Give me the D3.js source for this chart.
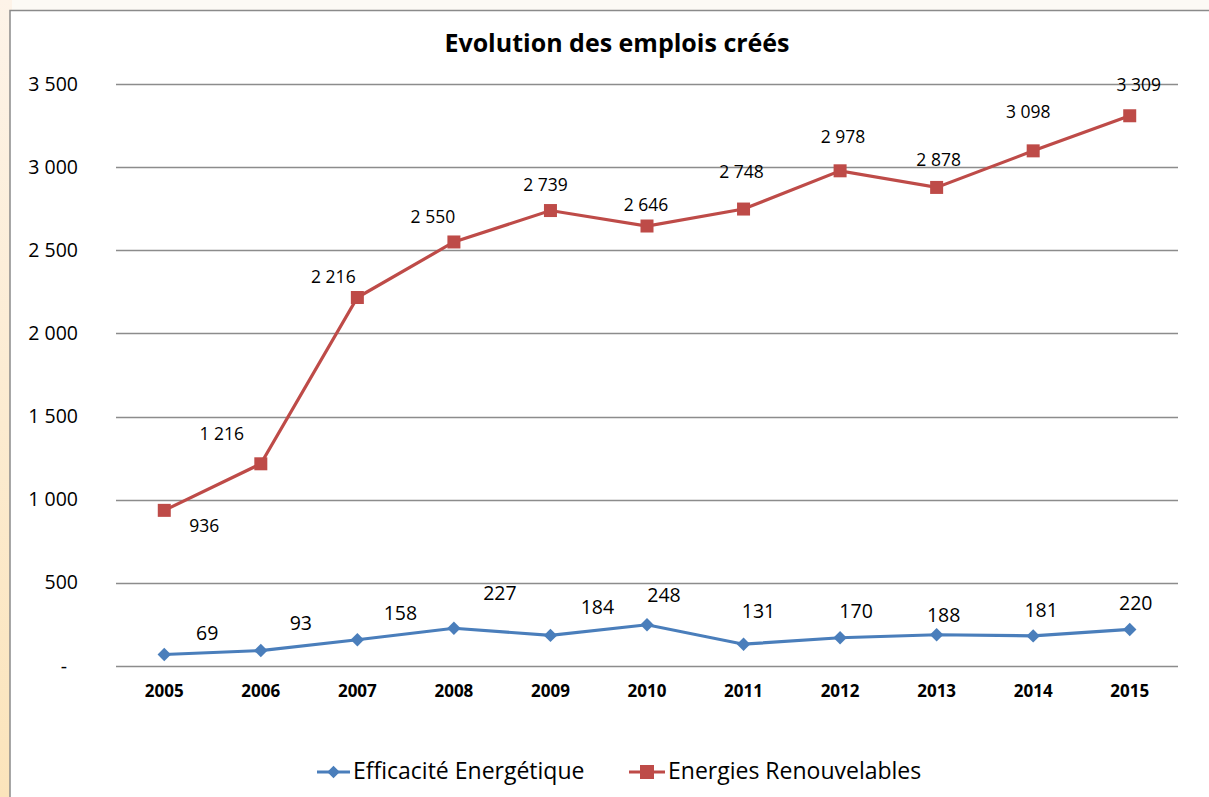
<!DOCTYPE html>
<html>
<head>
<meta charset="utf-8">
<script src="https://cdn.jsdelivr.net/npm/d3@7"></script>
<style>
  body { margin: 0; background: #fcf9f3; }
  svg { display: block; }
  text { font-family: "Open Sans", Lato, sans-serif; fill: #000; }
</style>
</head>
<body>
<svg id="chart" width="1209" height="797"></svg>
<script>
var width = 1209;
var height = 797;

var years = ["2005", "2006", "2007", "2008", "2009", "2010", "2011", "2012", "2013", "2014", "2015"];
var efficacite = [69, 93, 158, 227, 184, 248, 131, 170, 188, 181, 220];
var renouvelables = [936, 1216, 2216, 2550, 2739, 2646, 2748, 2978, 2878, 3098, 3309];
var yTicks = [0, 500, 1000, 1500, 2000, 2500, 3000, 3500];

// hand placed label nudges (dx, baseline dy), like the original sheet
var redNudge = [[40, 22], [-39, -24], [-24, -15], [-21, -19], [-5, -20], [-1, -15], [-2, -31], [3, -28], [2, -21], [-5, -33], [9, -25]];
var blueNudge = [[43, -15], [40, -21], [43, -20], [46, -28], [47, -21], [17, -23], [15, -26], [16, -20], [7, -13], [8, -19], [6, -19]];

var svg = d3.select("#chart");

// slide background bits
var defs = svg.append("defs");
var grad = defs.append("linearGradient").attr("id", "side").attr("x1", 0).attr("y1", 0).attr("x2", 0).attr("y2", 1);
grad.append("stop").attr("offset", "0%").attr("stop-color", "#fdf3e8");
grad.append("stop").attr("offset", "100%").attr("stop-color", "#fbe4bb");
svg.append("rect").attr("x", 0).attr("y", 0).attr("width", width).attr("height", height).attr("fill", "#fcfaf5");
svg.append("rect").attr("x", 0).attr("y", 0).attr("width", 12).attr("height", height).attr("fill", "url(#side)");

// chart box
svg.append("rect").attr("x", 10).attr("y", 10.5).attr("width", width + 20).attr("height", height + 20)
  .attr("fill", "#fff").attr("stroke", "#8a8a8a").attr("stroke-width", 1.5);

var x = d3.scaleBand().domain(years).range([116, 1178]);
var y = d3.scaleLinear().domain([0, 3500]).range([666, 84]);
var cx = function(d, i) { return x(years[i]) + x.bandwidth() / 2; };

function fmt(v) {
  if (v === 0) return "-";
  return d3.format(",")(v).replace(/,/g, " ");
}

// grid
svg.append("g").selectAll("line").data(yTicks).enter().append("line")
  .attr("x1", 116).attr("x2", 1178)
  .attr("y1", function(d) { return Math.round(y(d)) + 0.5; })
  .attr("y2", function(d) { return Math.round(y(d)) + 0.5; })
  .attr("stroke", "#8c8c8c").attr("stroke-width", 1.3);

svg.append("g").selectAll("text").data(yTicks).enter().append("text")
  .attr("x", function(d) { return d === 0 ? 67 : 78; })
  .attr("y", function(d) { return y(d) + 6.5; })
  .attr("text-anchor", "end")
  .style("font-size", "19.5px")
  .text(fmt);

svg.append("g").selectAll("text").data(years).enter().append("text")
  .attr("x", function(d) { return x(d) + x.bandwidth() / 2; })
  .attr("y", 697)
  .attr("text-anchor", "middle")
  .style("font-size", "17px").style("font-weight", "bold")
  .text(function(d) { return d; });

svg.append("text").attr("x", 617).attr("y", 52).attr("text-anchor", "middle")
  .style("font-size", "25px").style("font-weight", "bold")
  .text("Evolution des emplois créés");

var line = d3.line().x(cx).y(function(d) { return y(d); });

var blue = "#4a7ebb", red = "#be4b48";

svg.append("path").datum(renouvelables).attr("d", line)
  .attr("fill", "none").attr("stroke", red).attr("stroke-width", 3.2);
svg.append("path").datum(efficacite).attr("d", line)
  .attr("fill", "none").attr("stroke", blue).attr("stroke-width", 3.2);

svg.append("g").selectAll("rect").data(renouvelables).enter().append("rect")
  .attr("x", function(d, i) { return cx(d, i) - 6.5; })
  .attr("y", function(d) { return y(d) - 6.5; })
  .attr("width", 13).attr("height", 13).attr("fill", red);

var diamond = d3.symbol().type(d3.symbolDiamond2).size(115);
svg.append("g").selectAll("path").data(efficacite).enter().append("path")
  .attr("d", diamond)
  .attr("transform", function(d, i) { return "translate(" + cx(d, i) + "," + y(d) + ")"; })
  .attr("fill", blue);

svg.append("g").selectAll("text").data(renouvelables).enter().append("text")
  .attr("x", function(d, i) { return cx(d, i) + redNudge[i][0]; })
  .attr("y", function(d, i) { return y(d) + redNudge[i][1]; })
  .attr("text-anchor", "middle").style("font-size", "17.5px")
  .text(fmt);

svg.append("g").selectAll("text").data(efficacite).enter().append("text")
  .attr("x", function(d, i) { return cx(d, i) + blueNudge[i][0]; })
  .attr("y", function(d, i) { return y(d) + blueNudge[i][1]; })
  .attr("text-anchor", "middle").style("font-size", "19.5px")
  .text(fmt);

// legend
var legend = [
  { name: "Efficacité Energétique", color: blue, x: 317, len: 33, shape: "diamond" },
  { name: "Energies Renouvelables", color: red, x: 629, len: 36, shape: "square" }
];
var lg = svg.append("g").selectAll("g").data(legend).enter().append("g")
  .attr("transform", function(d) { return "translate(" + d.x + ",772)"; });
lg.append("line").attr("x1", 0).attr("x2", function(d) { return d.len; })
  .attr("stroke", function(d) { return d.color; }).attr("stroke-width", 3.2);
lg.append("path")
  .attr("d", function(d) {
    return d.shape === "square" ? "M-7,-7h14v14h-14z" : d3.symbol().type(d3.symbolDiamond2).size(100)();
  })
  .attr("transform", function(d) { return "translate(" + d.len / 2 + ",0)"; })
  .attr("fill", function(d) { return d.color; });
lg.append("text").attr("x", function(d) { return d.len + 3; }).attr("y", 7).style("font-size", "23px")
  .text(function(d) { return d.name; });
</script>
</body>
</html>
